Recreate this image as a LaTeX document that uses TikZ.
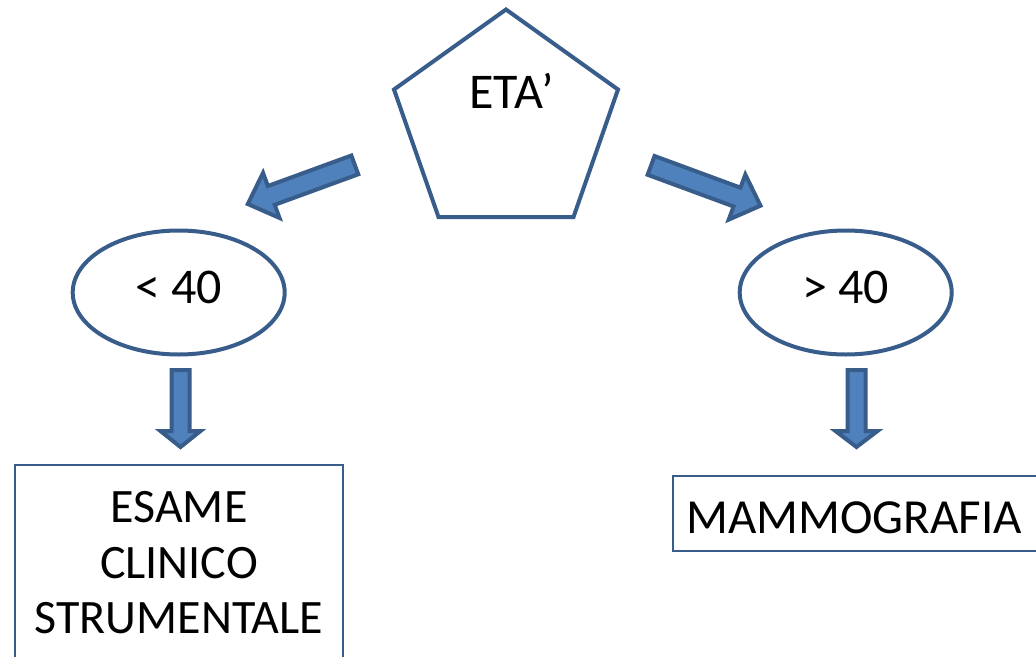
\documentclass[tikz,border=0pt]{standalone}
\usepackage{fontspec}
\setmainfont{Carlito}
\usetikzlibrary{shapes.geometric,calc}
\definecolor{edge}{HTML}{385D8A}
\definecolor{fillb}{HTML}{4F81BD}
\tikzset{
 penta/.style={draw=edge, line width=4pt},
 oval/.style={ellipse, draw=edge, line width=4pt, minimum width=212pt, minimum height=124pt, inner sep=0pt, font=\fontsize{50}{60}\selectfont, text height=32pt, text depth=11pt},
 lbl/.style={font=\fontsize{50}{60}\selectfont, inner sep=0pt},
 box/.style={rectangle, draw=edge, line width=2pt, inner sep=0pt, align=center},
 barrow/.style={draw=edge, fill=fillb, line width=4pt}
}
\newcommand\blockarr[5]{%
 \path ($(#2)!#4!(#1)$) coordinate (hbx);
 \draw[barrow] ($(#1)!#3!90:(#2)$) -- ($(hbx)!#3!90:(#2)$) -- ($(hbx)!#5!90:(#2)$) -- (#2)
   -- ($(hbx)!#5!-90:(#2)$) -- ($(hbx)!#3!-90:(#2)$) -- ($(#1)!#3!-90:(#2)$) -- cycle;}
\begin{document}
\begin{tikzpicture}[x=1pt,y=-1pt]
\useasboundingbox (0,0) rectangle (1036,656);
\clip (0,0) rectangle (1036,656);
\fill[white] (0,0) rectangle (1036,656);
\coordinate (pt) at (506,9.5); \coordinate (pr) at (618,89.5); \coordinate (pbr) at (573.5,217);
\coordinate (pbl) at (438.5,217); \coordinate (pl) at (394,89.5);
\draw[penta] (pt) -- (pr) -- (pbr) -- (pbl) -- (pl) -- cycle;
\node[lbl, anchor=base] (etatxt) at (511.5,108) {ETA’};
\node[oval] (lt) at (178.7,292.5) {< 40};
\node[oval] (gt) at (845.7,292.5) {> 40};
\node[box, font=\fontsize{48}{55.5}\selectfont, minimum width=328pt, minimum height=196pt] (esame) at (179,563) {ESAME\\CLINICO\\STRUMENTALE};
\node[box, font=\fontsize{49}{58}\selectfont, minimum width=373.5pt, minimum height=75pt, text height=39pt, text depth=0pt] (mammo) at (859.25,513.5) {\hspace*{-10pt}MAMMOGRAFIA};
\coordinate (lat) at (354.8,164.9); \coordinate (lah) at (247.8,204.0);
\blockarr{lat}{lah}{10pt}{25pt}{24pt}
\coordinate (rat) at (651.1,165.4); \coordinate (rah) at (760.5,205.7);
\blockarr{rat}{rah}{10pt}{25pt}{24pt}
\coordinate (ldt) at (180.5,370); \coordinate (ldh) at (180.5,447);
\blockarr{ldt}{ldh}{9pt}{16pt}{20pt}
\coordinate (rdt) at (856.5,370); \coordinate (rdh) at (856.5,447);
\blockarr{rdt}{rdh}{9pt}{16pt}{21pt}
\end{tikzpicture}
\end{document}
